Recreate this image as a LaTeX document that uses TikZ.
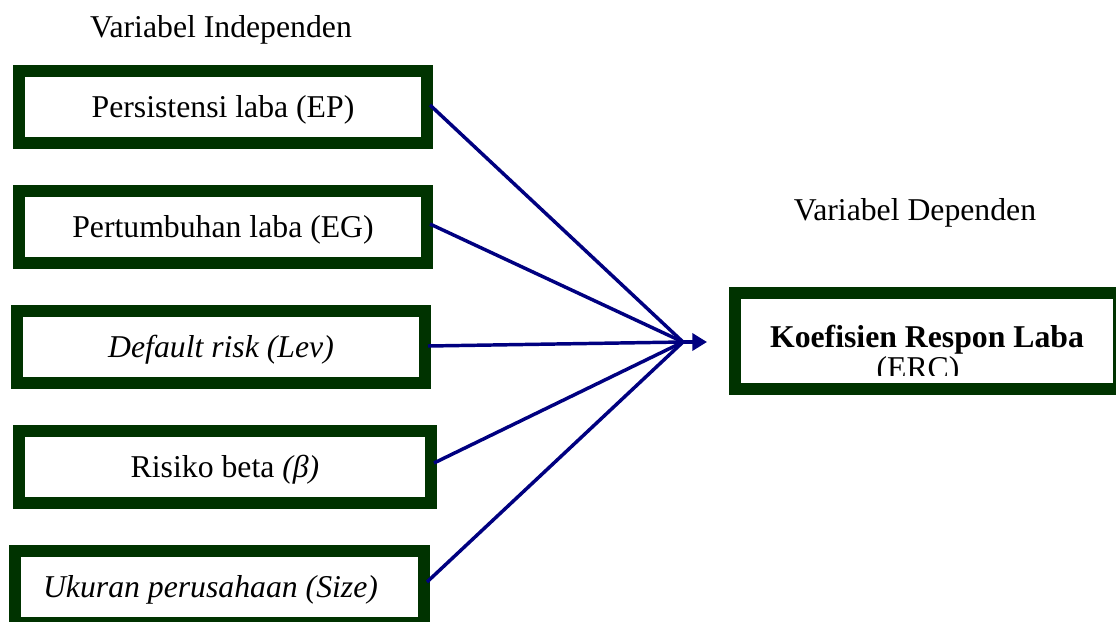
\documentclass[tikz,border=0pt]{standalone}
\usepackage{fontspec}
\setmainfont{Liberation Serif}
\usetikzlibrary{arrows.meta}
\definecolor{boxgreen}{RGB}{0,51,0}
\definecolor{arrnavy}{RGB}{0,0,128}
\begin{document}
\begin{tikzpicture}[x=0.75pt,y=-0.75pt,
  every node/.style={font=\fontsize{23.8}{27}\selectfont},
  varbox/.style={draw=boxgreen, line width=9pt, fill=white, inner sep=0pt,
    minimum width=306pt, minimum height=54pt, text height=16.7pt, text depth=1.7pt},
  conn/.style={draw=arrnavy, line width=2.6pt},
  arr/.style={draw=arrnavy, line width=2.6pt, -{Triangle[length=11pt,width=12.75pt]}},
  title/.style={anchor=base, inner sep=0pt}
]
\useasboundingbox (0,0) rectangle (1116,621);
\fill[white] (0,0) rectangle (1116,621);

\node[title] (ti) at (221,37) {Variabel Independen};
\node[title] (td) at (915,220) {Variabel Dependen};

\node[varbox] (b1) at (223,107) {Persistensi laba (EP)};
\node[varbox] (b2) at (223,227) {Pertumbuhan laba (EG)};
\node[varbox] (b3) at (221,347) {\itshape Default risk (Lev)};
\node[varbox, minimum width=309pt] (b4) at (225,467) {Risiko beta \textit{(β)}};
\node[varbox, minimum width=306.75pt] (b5) at (219.5,587) {};
\node[varbox, draw=none, fill=none] (t5) at (210.5,587) {\itshape Ukuran perusahaan (Size)};

\node[draw=boxgreen, line width=9.4pt, fill=white, inner sep=0pt,
  minimum width=288pt, minimum height=72pt] (erc) at (927,341) {};
\begin{scope}
  \clip (735,293) rectangle (1119,375);
  \node[title] (erc1) at (927,347) {\bfseries Koefisien Respon Laba};
  \node[title] (erc2) at (918,378) {(ERC)};
\end{scope}

\coordinate (c) at (683,342);
\coordinate (tip) at (707,342);

\draw[conn] ([xshift=-2.25pt,yshift=1.5pt]b1.east) -- (c);
\draw[conn] ([xshift=-2.25pt,yshift=2.25pt]b2.east) -- (c);
\draw[conn] ([xshift=-2.25pt,yshift=0.75pt]b3.east) -- (c);
\draw[conn] ([xshift=-2.25pt,yshift=3pt]b4.east) -- (c);
\draw[conn] ([xshift=-2.25pt,yshift=3.75pt]b5.east) -- (c);
\draw[arr] (c) -- (tip);
\end{tikzpicture}
\end{document}
